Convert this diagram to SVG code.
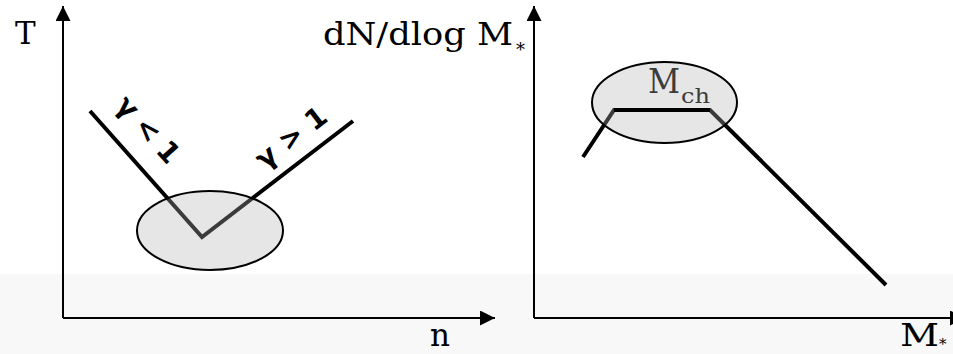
<svg xmlns="http://www.w3.org/2000/svg" width="953" height="354" viewBox="0 0 953 354">
<style>
.ax{stroke:#000;stroke-width:2;fill:none}
.crv{stroke:#000;stroke-width:4;fill:none;stroke-linecap:butt;stroke-linejoin:miter}
.blob{fill:#b2b2b2;fill-opacity:0.33;stroke:#000;stroke-width:2}
.lbl{font-family:"DejaVu Serif","Liberation Serif",serif;font-size:31px;fill:#000}
.gam{font-family:"DejaVu Sans","Liberation Sans",sans-serif;font-weight:bold;font-size:28px;fill:#000}
</style>
<defs>
<marker id="arr" viewBox="0 0 15 15" refX="15" refY="7.5" markerWidth="15" markerHeight="15" orient="auto" markerUnits="userSpaceOnUse">
<path d="M0,0 L15,7.5 L0,15 z" fill="#000"/>
</marker>
</defs>
<rect x="0" y="274" width="953" height="80" fill="#f8f8f8"/>
<g id="connectors">
<line class="ax" x1="63" y1="318" x2="63" y2="6" marker-end="url(#arr)"/>
<line class="ax" x1="63" y1="318" x2="495" y2="318" marker-end="url(#arr)"/>
<line class="ax" x1="534" y1="318" x2="534" y2="6" marker-end="url(#arr)"/>
<line class="ax" x1="534" y1="318" x2="965" y2="318" marker-end="url(#arr)"/>
</g>
<g id="axis-labels">
<text class="lbl" x="15" y="44">T</text>
<text class="lbl" x="430" y="346">n</text>
<text class="lbl" x="323" y="45" textLength="190" lengthAdjust="spacingAndGlyphs">dN/dlog M</text>
<text class="lbl" x="516" y="56" style="font-size:18px">*</text>
<text class="lbl" x="900" y="346" textLength="39" lengthAdjust="spacingAndGlyphs">M</text>
<text class="lbl" x="939" y="349" style="font-size:15px">*</text>
</g>
<g id="left-curve">
<polyline class="crv" points="90,111 202,237 353,121"/>
<text class="gam" x="0" y="0" text-anchor="middle" textLength="80" lengthAdjust="spacing" transform="translate(141,136) rotate(48)">γ &lt; 1</text>
<text class="gam" x="0" y="0" text-anchor="middle" textLength="82" lengthAdjust="spacing" transform="translate(297,145) rotate(-37.5)">γ &gt; 1</text>
</g>
<g id="left-ellipse">
<ellipse class="blob" cx="210" cy="230.5" rx="73" ry="39.5"/>
</g>
<g id="right-curve">
<polyline class="crv" points="583,157 614,110 710,110 886,285"/>
<text class="lbl" x="648" y="93" style="font-size:34px" textLength="32" lengthAdjust="spacingAndGlyphs">M</text>
<text class="lbl" x="681" y="103" style="font-size:21px" textLength="29" lengthAdjust="spacingAndGlyphs">ch</text>
</g>
<g id="right-ellipse">
<ellipse class="blob" cx="664.5" cy="102.5" rx="72.5" ry="40.5"/>
<line class="crv" x1="614" y1="110" x2="710" y2="110"/>
</g>
</svg>
